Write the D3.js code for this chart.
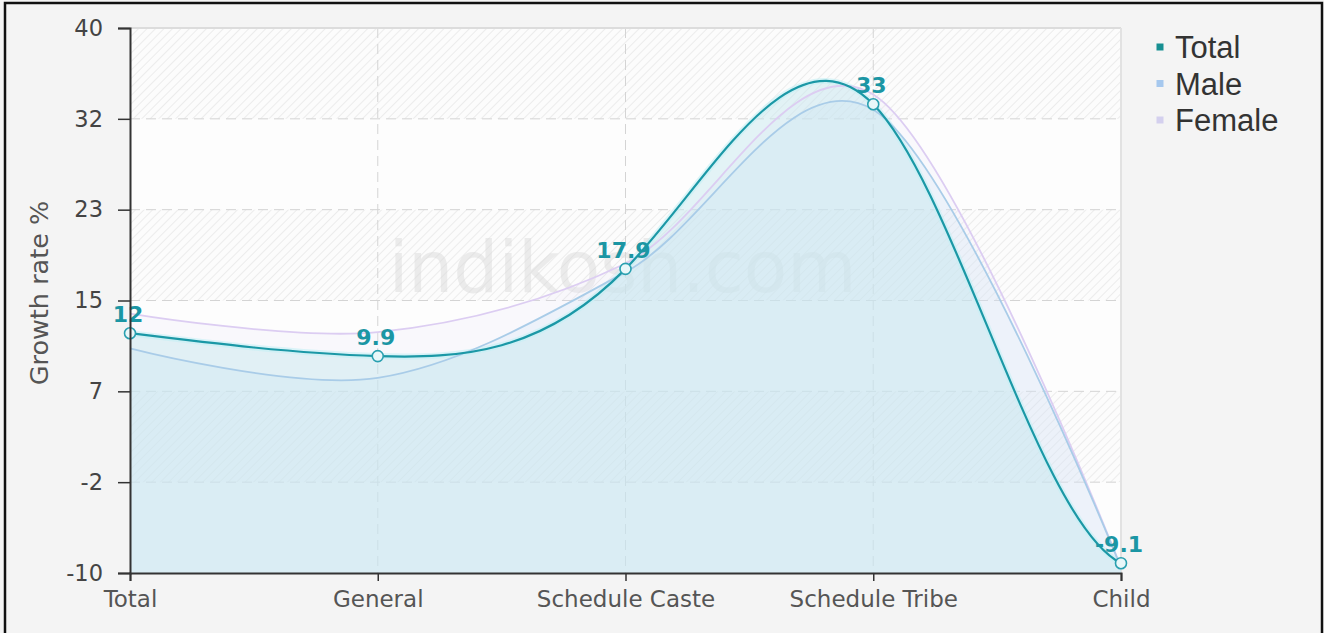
<!DOCTYPE html>
<html>
<head>
<meta charset="utf-8">
<script src="https://cdn.jsdelivr.net/npm/d3@7"></script>
<style>
  html, body { margin: 0; padding: 0; background: #f4f4f4; }
  svg { display: block; }
</style>
</head>
<body>
<div id="chart"></div>
<script>
// Data
const categories = ["Total", "General", "Schedule Caste", "Schedule Tribe", "Child"];
const seriesNames = ["Total", "Male", "Female"];
const totalValues = [12, 9.9, 17.9, 33, -9.1];
const maleValues = [10.6, 7.9, 17.6, 32.5, -9.5];
const femaleValues = [13.8, 12.1, 18.4, 33.9, -9.5];
const yTickLabels = ["-10", "-2", "7", "15", "23", "32", "40"];

const W = 1324, H = 633;
const margin = { top: 28, right: 203, bottom: 60, left: 130 };
const plotW = W - margin.left - margin.right;
const plotH = H - margin.top - margin.bottom;

// cubic spline: natural at the start, end slope a fraction of the last chord
function splineCurve(endFactor) {
    function Spline(context) { this._context = context; }
    Spline.prototype = {
        areaStart() { this._line = 0; },
        areaEnd() { this._line = NaN; },
        lineStart() { this._x = []; this._y = []; },
        point(x, y) { this._x.push(+x); this._y.push(+y); },
        lineEnd() {
            const x = this._x, y = this._y, n = x.length, ctx = this._context;
            if (n) {
                this._line ? ctx.lineTo(x[0], y[0]) : ctx.moveTo(x[0], y[0]);
                if (n === 2) ctx.lineTo(x[1], y[1]);
                else if (n > 2) {
                    const h = [], d = [];
                    for (let i = 0; i < n - 1; i++) {
                        h.push(x[i + 1] - x[i]);
                        d.push((y[i + 1] - y[i]) / h[i]);
                    }
                    const a = new Array(n).fill(0), b = new Array(n).fill(0),
                          c = new Array(n).fill(0), r = new Array(n).fill(0);
                    b[0] = 2; c[0] = 1; r[0] = 3 * d[0];
                    for (let i = 1; i < n - 1; i++) {
                        a[i] = h[i];
                        b[i] = 2 * (h[i - 1] + h[i]);
                        c[i] = h[i - 1];
                        r[i] = 3 * (h[i] * d[i - 1] + h[i - 1] * d[i]);
                    }
                    b[n - 1] = 1; r[n - 1] = endFactor * d[n - 2];
                    for (let i = 1; i < n; i++) {
                        const m = a[i] / b[i - 1];
                        b[i] -= m * c[i - 1];
                        r[i] -= m * r[i - 1];
                    }
                    const s = new Array(n);
                    s[n - 1] = r[n - 1] / b[n - 1];
                    for (let i = n - 2; i >= 0; i--) s[i] = (r[i] - c[i] * s[i + 1]) / b[i];
                    for (let i = 0; i < n - 1; i++) {
                        ctx.bezierCurveTo(
                            x[i] + h[i] / 3, y[i] + s[i] * h[i] / 3,
                            x[i + 1] - h[i] / 3, y[i + 1] - s[i + 1] * h[i] / 3,
                            x[i + 1], y[i + 1]);
                    }
                }
            }
            if (this._line || (this._line !== 0 && n === 1)) ctx.closePath();
            this._line = 1 - this._line;
            this._x = this._y = null;
        }
    };
    return context => new Spline(context);
}

const svg = d3.select("#chart").append("svg")
    .attr("width", W)
    .attr("height", H);

// hatch pattern for alternate bands
const defs = svg.append("defs");
const pat = defs.append("pattern")
    .attr("id", "hatch")
    .attr("patternUnits", "userSpaceOnUse")
    .attr("width", 6).attr("height", 6)
    .attr("patternTransform", "rotate(45)");
pat.append("rect").attr("width", 6).attr("height", 6).attr("fill", "#fcfcfc");
pat.append("line").attr("x1", 0).attr("y1", 0).attr("x2", 0).attr("y2", 6)
    .attr("stroke", "#e2e2e2").attr("stroke-width", 1.2);

const g = svg.append("g")
    .attr("transform", `translate(${margin.left},${margin.top})`);

const x = d3.scalePoint().domain(categories).range([0, plotW]);
const y = d3.scaleLinear().domain([-10, 40]).range([plotH, 0]);
const yTicks = d3.range(yTickLabels.length).map(i => -10 + i * 50 / (yTickLabels.length - 1));

// plot background with alternating bands
g.append("rect").attr("width", plotW).attr("height", plotH).attr("fill", "#fdfdfd");
g.selectAll(".band")
    .data(d3.pairs(yTicks).filter((d, i) => i % 2 === 1))
    .enter().append("rect")
    .attr("class", "band")
    .attr("x", 0)
    .attr("y", d => y(d[1]))
    .attr("width", plotW)
    .attr("height", d => y(d[0]) - y(d[1]))
    .attr("fill", "url(#hatch)");

// grid lines
g.selectAll(".hgrid")
    .data(yTicks.slice(1, -1))
    .enter().append("line")
    .attr("x1", 0).attr("x2", plotW)
    .attr("y1", d => y(d)).attr("y2", d => y(d))
    .attr("stroke", "#d4d4d4").attr("stroke-dasharray", "10,6");
g.selectAll(".vgrid")
    .data(categories.slice(1, -1))
    .enter().append("line")
    .attr("x1", d => x(d)).attr("x2", d => x(d))
    .attr("y1", 0).attr("y2", plotH)
    .attr("stroke", "#d4d4d4").attr("stroke-dasharray", "10,6");

// plot border (top / right)
g.append("line").attr("x1", 0).attr("x2", plotW).attr("y1", 0).attr("y2", 0)
    .attr("stroke", "#dcdcdc").attr("stroke-width", 2);
g.append("line").attr("x1", plotW).attr("x2", plotW).attr("y1", 0).attr("y2", plotH)
    .attr("stroke", "#e2e2e2").attr("stroke-width", 2);

// watermark
g.append("text")
    .attr("x", x("Schedule Caste") - 3)
    .attr("y", 264)
    .attr("text-anchor", "middle")
    .attr("font-family", "DejaVu Sans")
    .attr("font-size", 71)
    .attr("fill", "#d8d8d8")
    .attr("fill-opacity", 0.45)
    .text("indikosh.com");

const series = [
    { name: "Female", values: femaleValues, curve: d3.curveCardinal.tension(0),
      stroke: "#dccdf2", fill: "#e6e0f5", fillOpacity: 0.15 },
    { name: "Male", values: maleValues, curve: d3.curveCardinal.tension(0),
      stroke: "#a9cce8", fill: "#cfe6f4", fillOpacity: 0.3 },
    { name: "Total", values: totalValues, curve: splineCurve(0.27),
      stroke: "#1b98a6", fill: "#c4e6ee", fillOpacity: 0.45 }
];

const areaFor = s => d3.area()
    .x((d, i) => x(categories[i]))
    .y0(plotH)
    .y1(d => y(d))
    .curve(s.curve)(s.values);
const lineFor = s => d3.line()
    .x((d, i) => x(categories[i]))
    .y(d => y(d))
    .curve(s.curve)(s.values);

g.selectAll(".area")
    .data(series)
    .enter().append("path")
    .attr("class", "area")
    .attr("d", areaFor)
    .attr("fill", d => d.fill)
    .attr("fill-opacity", d => d.fillOpacity);

// light halo under total line
g.append("path")
    .attr("d", lineFor(series[2]))
    .attr("fill", "none")
    .attr("stroke", "#c4f0f5")
    .attr("stroke-width", 6)
    .attr("stroke-opacity", 0.6);

g.selectAll(".line")
    .data(series)
    .enter().append("path")
    .attr("class", "line")
    .attr("d", lineFor)
    .attr("fill", "none")
    .attr("stroke", d => d.stroke)
    .attr("stroke-width", d => d.name === "Total" ? 2.2 : 1.8);

// markers on total
g.selectAll(".marker")
    .data(totalValues)
    .enter().append("circle")
    .attr("class", "marker")
    .attr("cx", (d, i) => x(categories[i]))
    .attr("cy", d => y(d))
    .attr("r", 5.5)
    .attr("fill", "#e9f7f9")
    .attr("stroke", "#2aa0b0")
    .attr("stroke-width", 1.6);

// value labels
g.selectAll(".vlabel")
    .data(totalValues)
    .enter().append("text")
    .attr("class", "vlabel")
    .attr("x", (d, i) => x(categories[i]) - 2)
    .attr("y", d => y(d) - 11)
    .attr("text-anchor", "middle")
    .attr("font-family", "DejaVu Sans")
    .attr("font-weight", "bold")
    .attr("font-size", 22)
    .attr("fill", "#1b96a4")
    .text(d => d);

// axes
const yAxis = g.append("g")
    .call(d3.axisLeft(y).tickValues(yTicks).tickFormat((d, i) => yTickLabels[i]).tickSize(12).tickPadding(15));
const xAxis = g.append("g")
    .attr("transform", `translate(0,${plotH})`)
    .call(d3.axisBottom(x).tickSize(8).tickPadding(10));

[yAxis, xAxis].forEach(a => {
    a.select(".domain").attr("stroke", "#333").attr("stroke-width", 2);
    a.selectAll(".tick line").attr("stroke", "#333").attr("stroke-width", 1.5);
    a.selectAll("text")
        .attr("font-family", "DejaVu Sans")
        .attr("fill", "#444");
});
yAxis.selectAll("text").attr("font-size", 22.5);
xAxis.selectAll("text").attr("font-size", 23).attr("fill", "#555");

// y axis title
svg.append("text")
    .attr("transform", `translate(48,293) rotate(-90)`)
    .attr("text-anchor", "middle")
    .attr("font-family", "DejaVu Sans")
    .attr("font-size", 25.5)
    .attr("fill", "#555")
    .text("Growth rate %");

// legend
const legendColors = ["#178f92", "#a6c8ee", "#d4d0ee"];
const legend = svg.append("g").attr("transform", "translate(1160,47)");
const items = legend.selectAll(".item")
    .data(seriesNames)
    .enter().append("g")
    .attr("transform", (d, i) => `translate(0,${i * 36.5})`);
items.append("rect")
    .attr("x", -3.5).attr("y", -3.5)
    .attr("width", 7).attr("height", 7)
    .attr("fill", (d, i) => legendColors[i]);
items.append("text")
    .attr("x", 15)
    .attr("y", 11)
    .attr("font-family", "Liberation Sans")
    .attr("font-size", 31)
    .attr("fill", "#333")
    .text(d => d);

// outer border
svg.append("rect")
    .attr("x", 5).attr("y", 3)
    .attr("width", W - 7).attr("height", H + 20)
    .attr("fill", "none")
    .attr("stroke", "#111")
    .attr("stroke-width", 2.5);
</script>
</body>
</html>
